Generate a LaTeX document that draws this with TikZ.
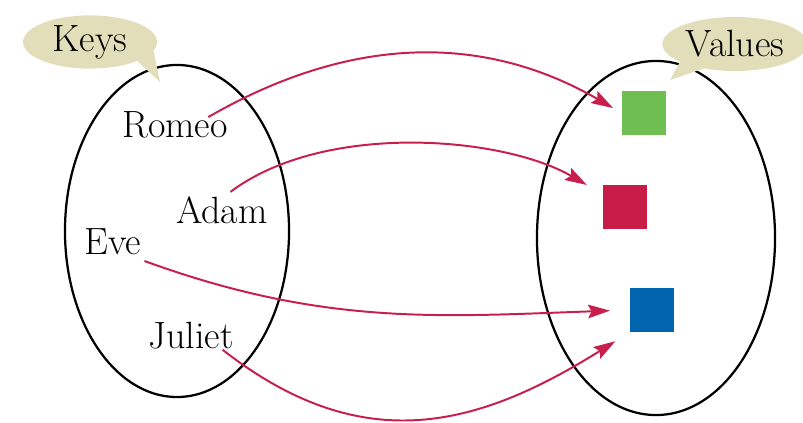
\documentclass[tikz,border=0pt]{standalone}
\usepackage{tikz}
\usetikzlibrary{arrows.meta,positioning,shapes.geometric,calc}
\usepackage{xcolor}
\definecolor{maparrow}{RGB}{200,30,78}
\definecolor{valgreen}{RGB}{110,190,82}
\definecolor{valred}  {RGB}{200,28,72}
\definecolor{valblue} {RGB}{0,100,175}
\definecolor{bubble}  {RGB}{226,222,186}

\begin{document}
\begin{tikzpicture}[x=0.025cm, y=0.025cm,
          set/.style={ellipse,draw=black,line width=1.6pt,inner sep=0pt},
          key/.style={inner sep=0pt,font=\fontsize{27}{30}\selectfont},
          tag/.style={ellipse,fill=bubble,inner sep=0pt,font=\fontsize{27}{30}\selectfont},
          val/.style={minimum size=1.1cm,inner sep=0pt},
          maps/.style={-{Stealth[length=0.55cm,width=0.34cm,inset=0.09cm]},line width=1.4pt,maparrow}
      ]
        \useasboundingbox (0,0) rectangle (803,422);
        % the two sets
        \node[set,minimum width=5.6cm,minimum height=8.3cm]  (keyset) at (177,191) {};
        \node[set,minimum width=5.95cm,minimum height=8.85cm] (valset) at (656,184) {};
        % speech bubbles
        \coordinate (keytip) at (160,340);
        \coordinate (valtip) at (670,342);
        \node[tag,minimum width=3.35cm,minimum height=1.33cm] (keys)   at (90,380)  {Keys};
        \node[tag,minimum width=3.63cm,minimum height=1.35cm] (values) at (735,378) {Values};
        \fill[bubble] (keys.-22) -- (keytip) -- (keys.-8) -- cycle;
        \fill[bubble] (values.198) -- (valtip) -- (values.218) -- cycle;
        % keys
        \node[key] (romeo)  at (175,297) {Romeo};
        \node[key] (adam)   at (222,212) {Adam};
        \node[key] (eve)    at (113,180) {Eve};
        \node[key] (juliet) at (191,86)  {Juliet};
        % values
        \node[val,fill=valgreen] (green) at (644,309) {};
        \node[val,fill=valred]   (red)   at (625,215) {};
        \node[val,fill=valblue]  (blue)  at (652,112) {};
        % mapping
        \draw[maps,shorten >=7pt]  ([xshift=-14pt,yshift=-4pt]romeo.north east) to[out=30,in=150] (green.west);
        \draw[maps,shorten >=13pt] ([xshift=6pt,yshift=3pt]adam.north) to[out=37,in=150,looseness=0.8] (red.150);
        \draw[maps,shorten >=14pt] ([shift={(2pt,-4pt)}]eve.south east) to[out=-20,in=182] (blue.west);
        \draw[maps,shorten >=12pt] ([xshift=-8pt]juliet.south east) to[out=-38,in=212,looseness=1.12] (blue.south west);
      \end{tikzpicture}
\end{document}
